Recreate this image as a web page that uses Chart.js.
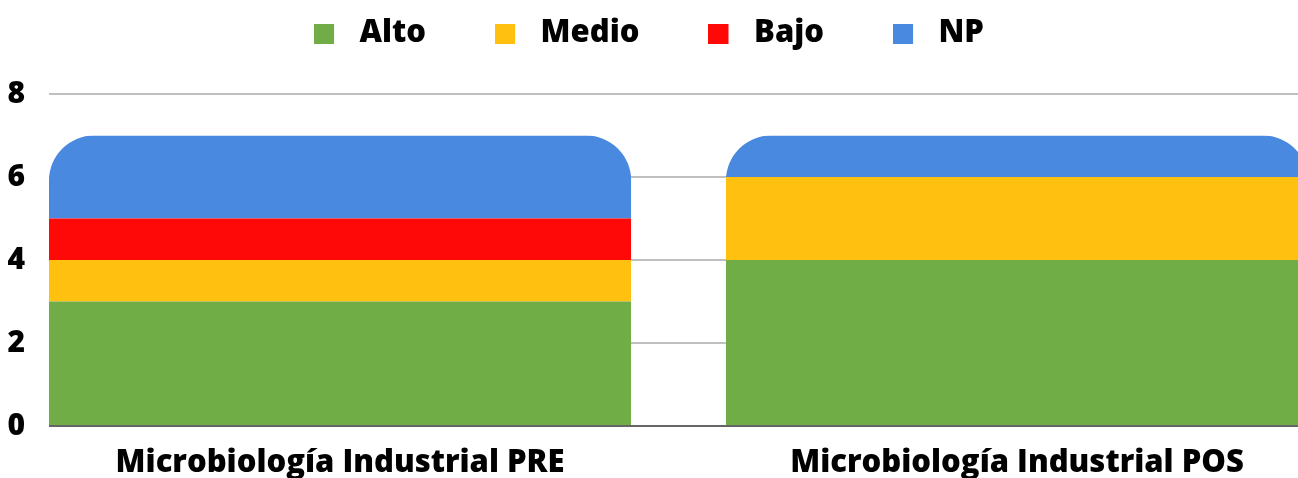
<!DOCTYPE html>
<html>
<head>
<meta charset="utf-8">
<script src="https://cdn.jsdelivr.net/npm/chart.js@4.4.0/dist/chart.umd.min.js"></script>
<style>
  html, body { margin: 0; padding: 0; background: #fff; overflow: hidden; }
  #wrap { width: 1298px; height: 478px; }
</style>
</head>
<body>
<div id="wrap"><canvas id="chart" width="1298" height="478"></canvas></div>
<script>
const categories = ['Microbiología Industrial PRE', 'Microbiología Industrial POS'];
const seriesNames = ['Alto', 'Medio', 'Bajo', 'NP'];
const alto = [3, 4];
const medio = [1, 2];
const bajo = [1, 0];
const np = [2, 1];
const yTicks = [0, 2, 4, 6, 8];

const colors = ['#70AD47', '#FFC010', '#FF0808', '#4A89E0'];
const FONT = "'Open Sans', 'Noto Sans', sans-serif";
const bigFont = { family: FONT, size: 31, weight: 800 };
const tickFont = { family: FONT, size: 30, weight: 800 };

// legend square with some room after it
function swatch(color) {
    const c = document.createElement('canvas');
    c.width = 30; c.height = 20;
    const g = c.getContext('2d');
    g.fillStyle = color;
    g.fillRect(0, 0, 20, 20);
    return c;
}

// round the top of each whole stack
const roundStacks = {
    id: 'roundStacks',
    beforeDatasetsDraw(chart) {
        const ctx = chart.ctx;
        const metas = chart.getSortedVisibleDatasetMetas();
        ctx.save();
        ctx.beginPath();
        categories.forEach((c, i) => {
            let top = Infinity, bottom = -Infinity, x = 0, w = 0;
            metas.forEach(m => {
                const el = m.data[i];
                if (!el) return;
                const p = el.getProps(['x', 'y', 'base', 'width'], true);
                top = Math.min(top, p.y, p.base);
                bottom = Math.max(bottom, p.y, p.base);
                x = p.x; w = p.width;
            });
            ctx.roundRect(x - w / 2, top, w, bottom - top, [45, 45, 0, 0]);
        });
        ctx.clip();
    },
    afterDatasetsDraw(chart) {
        chart.ctx.restore();
    }
};

// extra space under the legend
const legendSpace = {
    id: 'legendSpace',
    beforeInit(chart) {
        const fit = chart.legend.fit;
        chart.legend.fit = function () {
            fit.bind(chart.legend)();
            this.height += 35;
        };
    }
};

const series = [alto, medio, bajo, np];

new Chart(document.getElementById('chart'), {
    type: 'bar',
    data: {
        datasets: seriesNames.map((name, k) => ({
            label: name,
            data: series[k].map((v, i) => ({ x: i, y: v })),
            backgroundColor: colors[k],
            pointStyle: swatch(colors[k]),
            barPercentage: 0.86,
            categoryPercentage: 1
        }))
    },
    options: {
        responsive: false,
        animation: false,
        devicePixelRatio: 1,
        layout: { padding: { top: -51, left: 0, right: 0, bottom: 0 } },
        plugins: {
            legend: {
                position: 'top',
                labels: {
                    usePointStyle: true,
                    pointStyleWidth: 30,
                    boxHeight: 20,
                    padding: 69,
                    color: '#000',
                    font: bigFont
                }
            },
            tooltip: { enabled: false }
        },
        scales: {
            x: {
                type: 'linear',
                stacked: true,
                offset: false,
                min: -0.43,
                max: 1.415,
                afterBuildTicks: s => { s.ticks = categories.map((c, i) => ({ value: i })); },
                afterFit: s => { s.height = 52; },
                ticks: {
                    callback: v => categories[v],
                    autoSkip: false,
                    maxRotation: 0,
                    padding: 19,
                    color: '#000',
                    font: bigFont
                },
                grid: { display: false, drawTicks: false },
                border: { display: false }
            },
            y: {
                stacked: true,
                min: 0,
                max: 8,
                afterBuildTicks: s => { s.ticks = yTicks.map(v => ({ value: v })); },
                afterFit: s => { s.width = 49; },
                ticks: { padding: 24, color: '#000', font: tickFont },
                grid: {
                    color: c => c.tick && c.tick.value === 0 ? '#666666' : '#C0C0C0',
                    lineWidth: 2,
                    drawTicks: false
                },
                border: { display: false }
            }
        }
    },
    plugins: [roundStacks, legendSpace]
});
</script>
</body>
</html>
